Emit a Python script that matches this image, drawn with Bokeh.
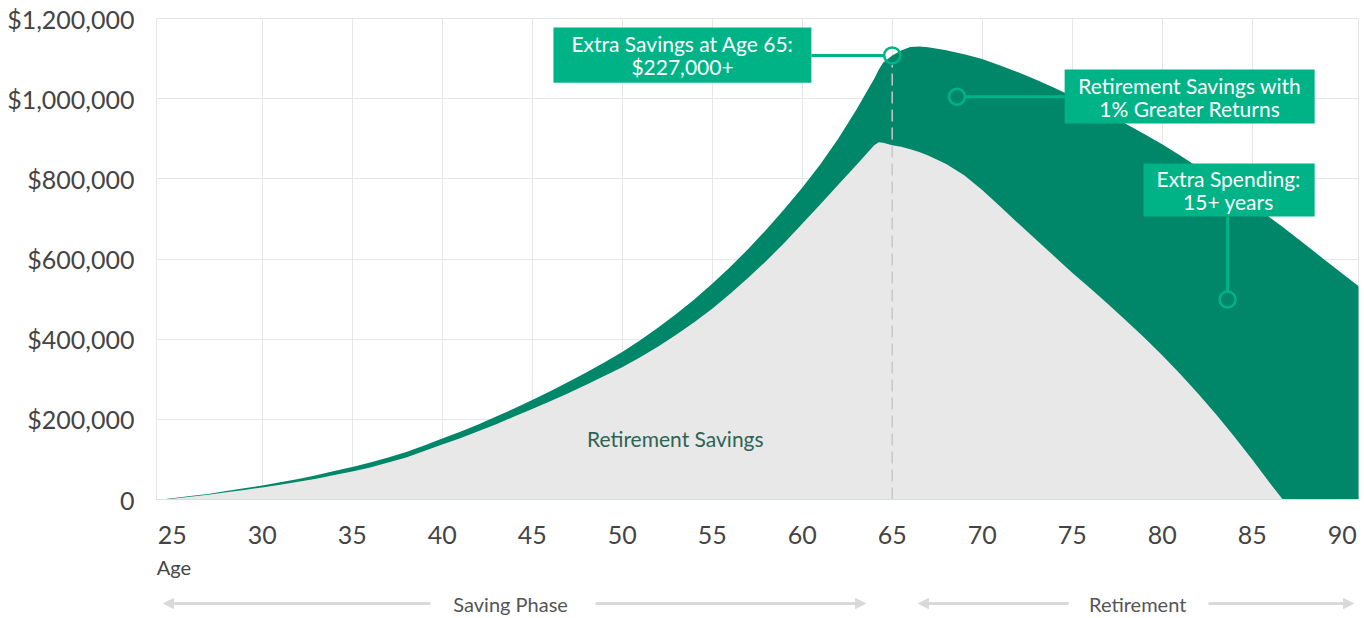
from bokeh.plotting import figure
from bokeh.layouts import column
from bokeh.models import Range1d, FixedTicker, Arrow, NormalHead, Label
from bokeh.core.properties import value
from bokeh.embed import file_html
from bokeh.resources import INLINE

# ---------------- data ----------------
ages = [24.4, 25, 26, 27, 28, 29, 30, 31, 32, 33, 34, 35, 36, 37, 38, 39, 40,
        41, 42, 43, 44, 45, 46, 47, 48, 49, 50, 51, 52, 53, 54, 55, 56, 57, 58,
        59, 60, 61, 62, 63, 64, 64.25, 64.5, 65, 65.5, 66, 66.5, 67, 68, 69,
        70, 71, 72, 73, 74, 75, 76, 77, 78, 79, 80, 81, 82, 83, 84, 85, 86,
        86.7, 87, 88, 89, 90, 91]

# Retirement savings (base case)
savings = [0, 2000, 7000, 12000, 18000, 24000, 30000, 37000, 44000, 52000,
           61000, 70000, 80000, 92000, 105000, 121000, 137000, 153000, 170000,
           188000, 207000, 226000, 245000, 265000, 286000, 308000, 330000,
           355000, 382000, 411000, 442000, 476000, 513000, 553000, 595000,
           640000, 688000, 736000, 785000, 834000, 884000, 891000, 890000,
           884000, 880000, 874000, 867000, 858000, 837000, 809000,
           772000, 731000, 689000, 648000, 607000, 566000, 527000, 487000,
           446000, 404000, 360000, 313000, 264000, 212000, 157000, 100000,
           40000, 0, 0, 0, 0, 0, 0]

# Retirement savings with 1% greater returns
savings_plus = [0, 3000, 8500, 14000, 21000, 28000, 35000, 43000, 51000, 60500,
                71000, 81000, 92000, 105000, 118500, 135000, 152000, 169000,
                187000, 207000, 227000, 248000, 270000, 293000, 317000, 342000,
                368000, 397000, 429000, 463000, 499000, 538000, 580000, 625000,
                673000, 724000, 778000, 836000, 900000, 972000, 1050000,
                1072000, 1090000, 1108000, 1120000, 1129000, 1130000, 1128000,
                1121000, 1111000, 1099000, 1083000, 1066000, 1047000, 1027000,
                1006000, 984000, 961000, 937000, 912000, 886000, 858000,
                829000, 799000, 768000, 736000, 703000, 680000, 669000,
                634000, 599000, 564000, 529000]

x_ticks = [25, 30, 35, 40, 45, 50, 55, 60, 65, 70, 75, 80, 85, 90]
x_grid = [30, 35, 40, 45, 50, 55, 60, 65, 70, 75, 80, 85]
y_ticks = [0, 200000, 400000, 600000, 800000, 1000000, 1200000]
y_labels = ["0", "$200,000", "$400,000", "$600,000", "$800,000",
            "$1,000,000", "$1,200,000"]

retire_age = 65
extra_at_65 = 1108000

# ---------------- style ----------------
FONT = "Lato"
DARK_GREEN = "#00876a"
BOX_GREEN = "#00b386"
GRAY_FILL = "#e8e8e8"
GRID = "#e6e6e6"
TXT = "#444444"
ARROW_C = "#d9d9d9"

x_range = Range1d(24.128, 90.906)

p = figure(width=1364, height=552, output_backend="svg", toolbar_location=None,
           x_range=x_range, y_range=Range1d(0, 1200000))
p.min_border_left = 156
p.min_border_right = 6
p.min_border_top = 18
p.min_border_bottom = 53
p.outline_line_color = GRID
p.background_fill_color = "white"
p.border_fill_color = "white"

p.xaxis.ticker = FixedTicker(ticks=x_ticks)
p.yaxis.ticker = FixedTicker(ticks=y_ticks)
p.yaxis.major_label_overrides = {t: l for t, l in zip(y_ticks, y_labels)}
p.xgrid.ticker = FixedTicker(ticks=x_grid)
p.ygrid.ticker = FixedTicker(ticks=y_ticks[1:])
p.xgrid.grid_line_color = GRID
p.ygrid.grid_line_color = GRID

for ax in (p.xaxis, p.yaxis):
    ax.major_label_text_font = FONT
    ax.major_label_text_font_size = "25px"
    ax.major_label_text_color = TXT
    ax.major_tick_line_color = None
    ax.minor_tick_line_color = None
p.yaxis.axis_line_color = None
p.yaxis.major_label_standoff = 16
p.xaxis.axis_line_color = "#cfe3db"
p.xaxis.major_label_standoff = 20

# areas
p.varea(x=ages, y1=0, y2=savings_plus, fill_color=DARK_GREEN)
p.varea(x=ages, y1=0, y2=savings, fill_color=GRAY_FILL)

# dashed retirement line
p.segment(x0=[retire_age], y0=[0], x1=[retire_age], y1=[extra_at_65 - 24000],
          line_color="#c8c8c8", line_width=1.5, line_dash="12 6")

p.text(x=[52.95], y=[152000], text=["Retirement Savings"],
       text_font=value(FONT), text_font_size=value("21px"),
       text_color="#2e6353", text_align="center", text_baseline="middle")

# callout boxes
box_l = [46.18, 74.58, 78.96]
box_r = [60.51, 88.47, 88.47]
box_t = [1177600, 1072800, 838000]
box_b = [1040000, 938000, 706000]
p.quad(left=box_l, right=box_r, top=box_t, bottom=box_b,
       fill_color=BOX_GREEN, line_color=None)

box_tx = [53.35, 53.35, 81.53, 81.53, 83.68, 83.68]
box_ty = [1137700, 1080300, 1032900, 975500, 800900, 743500]
box_text = ["Extra Savings at Age 65:", "$227,000+",
            "Retirement Savings with", "1% Greater Returns",
            "Extra Spending:", "15+ years"]
p.text(x=box_tx, y=box_ty, text=box_text, text_font=value(FONT),
       text_font_size=value("21px"), text_color="white",
       text_align="center", text_baseline="middle")

# connectors and markers
pt_x = [retire_age, 68.6, 83.63]
pt_y = [extra_at_65, 1005000, 499000]
p.segment(x0=[60.51, 69.05, 83.63], y0=[extra_at_65, 1005000, 706000],
          x1=[64.55, 74.58, 83.63], y1=[extra_at_65, 1005000, 520000],
          line_color=BOX_GREEN, line_width=3)
p.scatter(x=pt_x, y=pt_y, marker="circle", size=16, fill_color=None,
          line_color=BOX_GREEN, line_width=2.5)

# ---------------- phase strip below the axis ----------------
q = figure(width=1364, height=66, output_backend="svg", toolbar_location=None,
           x_range=x_range, y_range=Range1d(0, 66),
           x_axis_location=None, y_axis_location=None)
q.min_border_left = 156
q.min_border_right = 6
q.min_border_top = 0
q.min_border_bottom = 0
q.outline_line_color = None
q.grid.visible = False
q.background_fill_color = "white"
q.border_fill_color = "white"

q.add_layout(Label(x=24.14, y=52, text="Age", text_font=FONT,
                   text_font_size="20px", text_color=TXT,
                   text_align="left", text_baseline="middle"))

phase_y = 15
q.add_layout(Label(x=43.8, y=phase_y, text="Saving Phase", text_font=FONT,
                   text_font_size="20px", text_color="#555555",
                   text_align="center", text_baseline="middle"))
q.add_layout(Label(x=78.64, y=phase_y, text="Retirement", text_font=FONT,
                   text_font_size="20px", text_color="#555555",
                   text_align="center", text_baseline="middle"))

def head():
    return NormalHead(size=10, fill_color=ARROW_C, line_color=ARROW_C)

for xs, xe, st, en in [(24.52, 39.35, True, False), (48.52, 63.52, False, True),
                       (66.46, 74.8, True, False), (82.57, 90.63, False, True)]:
    q.add_layout(Arrow(x_start=xs, y_start=phase_y, x_end=xe, y_end=phase_y,
                       start=head() if st else None, end=head() if en else None,
                       line_color=ARROW_C, line_width=3))

layout = column(p, q, spacing=0)
open("out.html", "w").write(file_html(layout, INLINE))
